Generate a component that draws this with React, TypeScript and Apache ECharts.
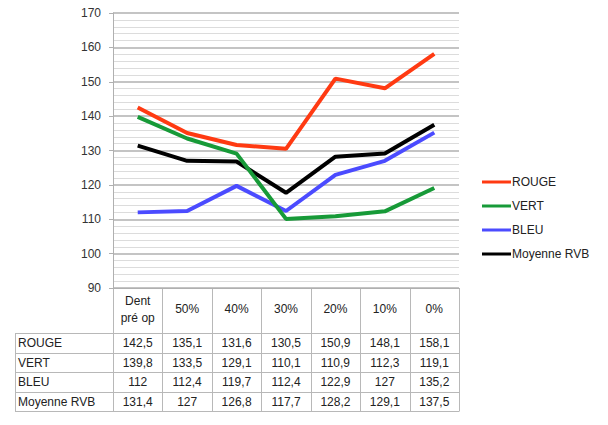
import React, { useEffect, useRef } from "react";
import * as echarts from "echarts";

const categories = ["Dent\npré op", "50%", "40%", "30%", "20%", "10%", "0%"];
const seriesNames = ["ROUGE", "VERT", "BLEU", "Moyenne RVB"];
const rouge = [142.5, 135.1, 131.6, 130.5, 150.9, 148.1, 158.1];
const vert = [139.8, 133.5, 129.1, 110.1, 110.9, 112.3, 119.1];
const bleu = [112, 112.4, 119.7, 112.4, 122.9, 127, 135.2];
const moyenne = [131.4, 127, 126.8, 117.7, 128.2, 129.1, 137.5];
const seriesData = [rouge, vert, bleu, moyenne];
const colors = ["#ff3a12", "#179a38", "#4b4bff", "#000000"];
const yMin = 90;
const yMax = 170;
const yInterval = 10;

const FONT = "'Liberation Sans', Arial, sans-serif";
const GRID_LEFT = 113;
const GRID_RIGHT_X = 459;
const GRID_TOP = 13;
const GRID_BOTTOM_Y = 288;
const HEADER_BOTTOM = 333;
const ROW_H = 19.5;
const TABLE_LEFT = 15;

const fmt = (v: number) => String(v).replace(".", ",");

export default function App() {
  const ref = useRef<HTMLDivElement>(null);
  useEffect(() => {
    if (!ref.current) return;
    const chart = echarts.init(ref.current, null, { renderer: "svg" });
    chart.setOption({
      animation: false,
      backgroundColor: "#ffffff",
      grid: {
        left: GRID_LEFT,
        right: 608 - GRID_RIGHT_X,
        top: GRID_TOP,
        bottom: 425 - GRID_BOTTOM_Y,
      },
      legend: {
        orient: "vertical",
        left: 477,
        top: 171,
        icon: "rect",
        itemWidth: 29,
        itemHeight: 3,
        itemGap: 12,
        textStyle: { fontFamily: FONT, fontSize: 12, color: "#222", padding: [0, 0, 0, -4] },
        data: seriesNames,
      },
      xAxis: {
        type: "category",
        data: categories,
        boundaryGap: true,
        axisLine: { show: true, lineStyle: { color: "#b0b0b0", width: 1 } },
        axisTick: { show: false },
        axisLabel: {
          fontFamily: FONT,
          fontSize: 12,
          color: "#222",
          margin: 21,
          verticalAlign: "middle",
          lineHeight: 17,
          interval: 0,
        },
        splitLine: { show: false },
      },
      yAxis: {
        type: "value",
        min: yMin,
        max: yMax,
        interval: yInterval,
        axisLine: { show: true, lineStyle: { color: "#b0b0b0", width: 1 } },
        axisTick: { show: true, length: 4, lineStyle: { color: "#b0b0b0" } },
        axisLabel: { fontFamily: FONT, fontSize: 12, color: "#333", margin: 12 },
        splitLine: { show: true, lineStyle: { color: "#c4c4c4", width: 2 } },
        minorTick: { show: false, splitNumber: 5 },
        minorSplitLine: { show: true, lineStyle: { color: "#dcdcdc", width: 1 } },
      },
      series: seriesNames.map((name, i) => ({
        name,
        type: "line",
        data: seriesData[i],
        symbol: "none",
        lineStyle: { color: colors[i], width: 4 },
        itemStyle: { color: colors[i] },
        z: 10 - i,
      })),
    });

    // table built from axis positions
    const xs = categories.map((_, i) => chart.convertToPixel({ xAxisIndex: 0 }, i) as number);
    const colW = (GRID_RIGHT_X - GRID_LEFT) / categories.length;
    const elements: any[] = [];
    const lineStyle = { stroke: "#b8b8b8", lineWidth: 1 };
    const tableBottom = HEADER_BOTTOM + ROW_H * seriesNames.length;
    for (let c = 0; c <= categories.length; c++) {
      const x = Math.round(GRID_LEFT + c * colW) + 0.5;
      elements.push({ type: "line", shape: { x1: x, y1: GRID_BOTTOM_Y, x2: x, y2: tableBottom }, style: lineStyle, silent: true });
    }
    elements.push({ type: "line", shape: { x1: TABLE_LEFT + 0.5, y1: HEADER_BOTTOM, x2: TABLE_LEFT + 0.5, y2: tableBottom }, style: lineStyle, silent: true });
    for (let r = 0; r <= seriesNames.length; r++) {
      const y = Math.round(HEADER_BOTTOM + r * ROW_H) + 0.5;
      elements.push({ type: "line", shape: { x1: TABLE_LEFT, y1: y, x2: GRID_RIGHT_X + 0.5, y2: y }, style: lineStyle, silent: true });
    }
    seriesNames.forEach((name, r) => {
      const cy = HEADER_BOTTOM + r * ROW_H + ROW_H / 2 + 0.5;
      elements.push({
        type: "text",
        x: TABLE_LEFT + 3,
        y: cy,
        style: { text: name, font: `12px ${FONT}`, fill: "#222", textAlign: "left", textVerticalAlign: "middle" },
        silent: true,
      });
      seriesData[r].forEach((v, c) => {
        elements.push({
          type: "text",
          x: xs[c],
          y: cy,
          style: { text: fmt(v), font: `12px ${FONT}`, fill: "#222", textAlign: "center", textVerticalAlign: "middle" },
          silent: true,
        });
      });
    });
    chart.setOption({ graphic: { elements } });

    return () => chart.dispose();
  }, []);
  return <div ref={ref} style={{ width: 608, height: 425, position: "absolute", left: 0, top: 0 }} />;
}
